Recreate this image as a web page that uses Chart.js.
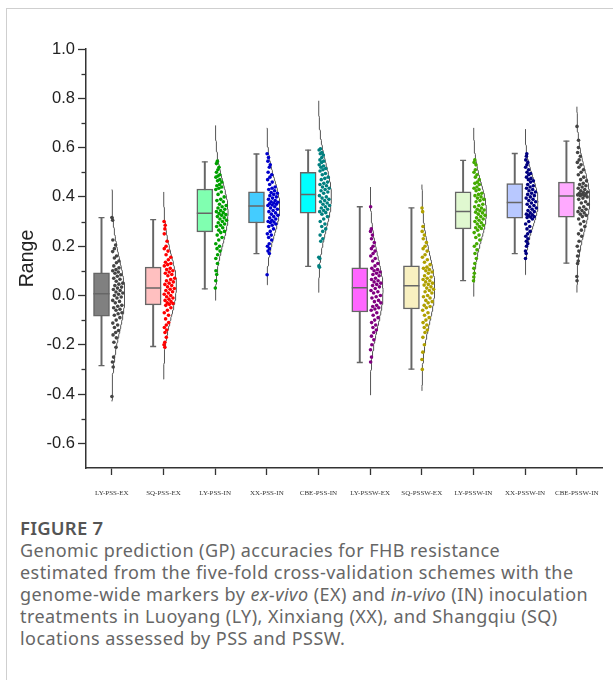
<!DOCTYPE html>
<html>
<head>
<meta charset="utf-8">
<script src="https://cdn.jsdelivr.net/npm/chart.js@4.4.1/dist/chart.umd.min.js"></script>
<style>
  html, body { margin: 0; padding: 0; background: #fff; }
  body { width: 613px; height: 680px; position: relative; overflow: hidden; }
  #frame { position: absolute; left: 6px; top: 8px; width: 620px; height: 690px;
           border-left: 1px solid #cfcfcf; border-top: 1px solid #cfcfcf; }
  #wrap { position: absolute; left: 0; top: 0; width: 613px; height: 510px; }
  #fig { position: absolute; left: 20px; top: 515px; font-family: "Noto Sans", "Open Sans", sans-serif;
         font-size: 18.5px; font-weight: 600; color: #555; letter-spacing: 0.2px; }
  #cap { position: absolute; left: 20px; top: 539px; font-family: "Noto Sans", "Open Sans", sans-serif;
         font-size: 18px; line-height: 22px; color: #666; white-space: nowrap; letter-spacing: 0.45px; }
</style>
</head>
<body>
<div id="frame"></div>
<div id="wrap"><canvas id="c" width="613" height="510"></canvas></div>
<div id="fig">FIGURE 7</div>
<div id="cap">Genomic prediction (GP) accuracies for FHB resistance<br>estimated from the five-fold cross-validation schemes with the<br>genome-wide markers by <i>ex-vivo</i> (EX) and <i>in-vivo</i> (IN) inoculation<br>treatments in Luoyang (LY), Xinxiang (XX), and Shangqiu (SQ)<br>locations assessed by PSS and PSSW.</div>
<script>
// ---------------- DATA ----------------
const categories = ['LY-PSS-EX','SQ-PSS-EX','LY-PSS-IN','XX-PSS-IN','CBE-PSS-IN','LY-PSSW-EX','SQ-PSSW-EX','LY-PSSW-IN','XX-PSSW-IN','CBE-PSSW-IN'];
const whiskerLow  = [-0.285,-0.207,0.027,0.170,0.118,-0.272,-0.299,0.060,0.170,0.131];
const q1          = [-0.084,-0.038,0.258,0.294,0.334,-0.067,-0.055,0.270,0.314,0.318];
const median      = [ 0.007, 0.030,0.334,0.363,0.410, 0.031, 0.039,0.341,0.377,0.404];
const q3          = [ 0.092, 0.115,0.432,0.420,0.500, 0.112, 0.120,0.420,0.454,0.460];
const whiskerHigh = [ 0.316, 0.308,0.542,0.574,0.590, 0.360, 0.355,0.548,0.576,0.626];
// fitted normal distribution curves (mean, sd, drawn range)
const curveMean = [0.000,0.040,0.335,0.360,0.400,0.018,0.030,0.340,0.380,0.390];
const curveSD   = [0.145,0.125,0.125,0.110,0.130,0.140,0.140,0.115,0.100,0.125];
const curveLow  = [-0.430,-0.340,-0.020,0.043,0.012,-0.404,-0.387,-0.004,0.084,0.012];
const curveHigh = [ 0.430, 0.420,0.690,0.680,0.790, 0.440, 0.450,0.680,0.675,0.766];
const yTickValues = [-0.6,-0.4,-0.2,0.0,0.2,0.4,0.6,0.8,1.0];
const yMinorTicks = [-0.7,-0.5,-0.3,-0.1,0.1,0.3,0.5,0.7,0.9];

const ptsLYPSSEX = [0.316,0.305,0.225,0.205,0.19,0.178,0.16,0.152,0.14,0.133,0.12,0.112,0.105,0.1,0.095,
 0.09,0.084,0.078,0.07,0.066,0.058,0.05,0.046,0.04,0.034,0.03,0.024,0.02,0.014,0.01,
 0.005,0.0,-0.006,-0.01,-0.02,-0.024,-0.03,-0.04,-0.044,-0.05,-0.056,-0.06,-0.07,-0.074,-0.08,
 -0.09,-0.1,-0.112,-0.12,-0.13,-0.142,-0.15,-0.16,-0.172,-0.19,-0.21,-0.25,-0.27,-0.29,-0.41];
const ptsSQPSSEX = [0.30,0.285,0.27,0.25,0.22,0.2,0.19,0.18,0.165,0.155,0.145,0.135,0.13,0.125,0.12,
 0.11,0.105,0.1,0.095,0.09,0.085,0.08,0.07,0.065,0.06,0.055,0.05,0.045,0.04,0.035,
 0.028,0.025,0.02,0.015,0.01,0.005,0.0,-0.005,-0.01,-0.015,-0.02,-0.025,-0.03,-0.033,-0.036,
 -0.04,-0.05,-0.06,-0.07,-0.08,-0.095,-0.11,-0.12,-0.13,-0.14,-0.15,-0.17,-0.19,-0.2,-0.21];
const ptsLYPSSIN = [0.545,0.535,0.52,0.51,0.5,0.49,0.485,0.48,0.47,0.465,0.46,0.45,0.445,0.44,0.435,
 0.43,0.42,0.41,0.4,0.39,0.385,0.38,0.37,0.365,0.36,0.355,0.35,0.345,0.34,0.336,
 0.332,0.328,0.325,0.32,0.315,0.31,0.305,0.3,0.295,0.29,0.285,0.28,0.275,0.265,0.26,
 0.255,0.245,0.235,0.225,0.21,0.2,0.19,0.18,0.165,0.15,0.13,0.1,0.085,0.06,0.03];
const ptsXXPSSIN = [0.575,0.56,0.545,0.53,0.52,0.5,0.49,0.48,0.47,0.46,0.45,0.44,0.435,0.43,0.425,
 0.418,0.415,0.41,0.405,0.4,0.395,0.39,0.385,0.38,0.378,0.375,0.372,0.37,0.367,0.365,
 0.36,0.355,0.35,0.345,0.34,0.335,0.33,0.325,0.32,0.315,0.31,0.305,0.3,0.298,0.296,
 0.29,0.285,0.28,0.27,0.26,0.25,0.245,0.235,0.225,0.21,0.2,0.19,0.18,0.17,0.084];
const ptsCBEPSSIN = [0.595,0.59,0.58,0.575,0.57,0.56,0.55,0.545,0.54,0.53,0.525,0.52,0.515,0.51,0.505,
 0.495,0.49,0.48,0.475,0.47,0.46,0.455,0.45,0.445,0.44,0.435,0.43,0.425,0.42,0.415,
 0.405,0.4,0.395,0.39,0.385,0.38,0.375,0.37,0.365,0.36,0.355,0.35,0.345,0.34,0.336,
 0.33,0.32,0.31,0.3,0.29,0.28,0.27,0.26,0.245,0.23,0.22,0.155,0.15,0.12,0.115];
const ptsLYPSSWEX = [0.36,0.27,0.26,0.245,0.23,0.215,0.2,0.19,0.18,0.17,0.16,0.15,0.14,0.13,0.12,
 0.11,0.105,0.1,0.095,0.09,0.085,0.08,0.07,0.065,0.06,0.055,0.05,0.045,0.04,0.035,
 0.028,0.02,0.015,0.01,0.0,-0.005,-0.01,-0.02,-0.025,-0.03,-0.04,-0.045,-0.05,-0.055,-0.06,
 -0.07,-0.08,-0.09,-0.1,-0.11,-0.12,-0.13,-0.14,-0.15,-0.165,-0.18,-0.2,-0.22,-0.25,-0.27];
const ptsSQPSSWEX = [0.355,0.34,0.28,0.26,0.245,0.23,0.215,0.2,0.19,0.18,0.165,0.155,0.145,0.135,0.125,
 0.115,0.11,0.105,0.1,0.095,0.09,0.08,0.075,0.07,0.065,0.06,0.055,0.05,0.045,0.042,
 0.035,0.03,0.025,0.02,0.015,0.01,0.0,-0.005,-0.01,-0.02,-0.025,-0.03,-0.04,-0.045,-0.05,
 -0.06,-0.07,-0.08,-0.09,-0.1,-0.11,-0.12,-0.13,-0.14,-0.15,-0.17,-0.2,-0.23,-0.26,-0.3];
const ptsLYPSSWIN = [0.55,0.54,0.53,0.51,0.5,0.49,0.48,0.47,0.46,0.455,0.45,0.44,0.435,0.43,0.425,
 0.415,0.41,0.405,0.4,0.395,0.39,0.385,0.38,0.37,0.365,0.36,0.355,0.35,0.347,0.344,
 0.338,0.335,0.33,0.325,0.32,0.315,0.31,0.305,0.3,0.295,0.29,0.285,0.28,0.275,0.272,
 0.265,0.255,0.245,0.235,0.225,0.21,0.2,0.185,0.17,0.15,0.13,0.11,0.09,0.075,0.06];
const ptsXXPSSWIN = [0.575,0.565,0.55,0.54,0.53,0.52,0.51,0.5,0.495,0.49,0.48,0.475,0.47,0.465,0.46,
 0.45,0.445,0.44,0.435,0.43,0.425,0.42,0.415,0.41,0.405,0.4,0.395,0.39,0.385,0.38,
 0.375,0.37,0.365,0.36,0.355,0.35,0.345,0.34,0.335,0.33,0.327,0.324,0.32,0.318,0.316,
 0.31,0.3,0.29,0.28,0.27,0.26,0.25,0.24,0.23,0.22,0.21,0.2,0.18,0.17,0.15];
const ptsCBEPSSWIN = [0.686,0.63,0.6,0.58,0.565,0.55,0.54,0.53,0.52,0.51,0.5,0.49,0.48,0.47,0.465,
 0.455,0.45,0.445,0.44,0.435,0.43,0.425,0.42,0.418,0.415,0.412,0.41,0.408,0.406,0.405,
 0.4,0.395,0.39,0.38,0.375,0.37,0.36,0.355,0.35,0.345,0.34,0.335,0.33,0.325,0.32,
 0.31,0.3,0.29,0.28,0.265,0.25,0.24,0.22,0.2,0.18,0.16,0.14,0.13,0.077,0.06];
const groupPoints = [ptsLYPSSEX,ptsSQPSSEX,ptsLYPSSIN,ptsXXPSSIN,ptsCBEPSSIN,ptsLYPSSWEX,ptsSQPSSWEX,ptsLYPSSWIN,ptsXXPSSWIN,ptsCBEPSSWIN];

// ---------------- STYLE ----------------
const boxColors   = ['#808080','#ffc0c0','#80ffb0','#44ccff','#00ffff','#ff66ff','#f8f0c0','#e0f8d0','#b8c8ff','#ffaaff'];
const pointColors = ['#444444','#ff0000','#00a000','#0000cc','#008080','#800080','#b0a000','#44aa00','#000080','#444444'];
const BOX_SHIFT = 0.2, CURVE_PEAK = 0.25, LINE = '#666666';

function curveWidth(g, y) {
  const z = (y - curveMean[g]) / curveSD[g];
  return CURVE_PEAK * Math.exp(-0.5 * z * z);
}

const datasets = [];
// whiskers (thin floating bars)
datasets.push({ type:'bar', order:6, grouped:false, barThickness:1.3, backgroundColor:LINE, borderWidth:0,
  data: categories.map((c,i)=>({x:i+1-BOX_SHIFT, y:[whiskerLow[i], whiskerHigh[i]]})) });
// boxes
datasets.push({ type:'bar', order:5, grouped:false, barThickness:16, backgroundColor:boxColors,
  borderColor:LINE, borderWidth:1.5, borderSkipped:false,
  data: categories.map((c,i)=>({x:i+1-BOX_SHIFT, y:[q1[i], q3[i]]})) });
// medians
datasets.push({ type:'scatter', order:4, pointStyle:'line', pointRadius:8, pointBorderWidth:1.5,
  pointBorderColor:LINE, borderColor:LINE,
  data: categories.map((c,i)=>({x:i+1-BOX_SHIFT, y:median[i]})) });
// whisker caps
datasets.push({ type:'scatter', order:4, pointStyle:'line', pointRadius:3, pointBorderWidth:1.3,
  pointBorderColor:LINE, borderColor:LINE,
  data: categories.flatMap((c,i)=>[{x:i+1-BOX_SHIFT, y:whiskerLow[i]},{x:i+1-BOX_SHIFT, y:whiskerHigh[i]}]) });
// distribution curves
categories.forEach((c,g)=>{
  const pts = [];
  const n = 140;
  for (let k=0;k<=n;k++){
    const y = curveLow[g] + (curveHigh[g]-curveLow[g])*k/n;
    pts.push({x: g+1+curveWidth(g,y), y});
  }
  datasets.push({ type:'scatter', order:3, showLine:true, pointRadius:0, borderColor:'#555555',
    borderWidth:1, fill:false, data: pts });
});
// jittered points
categories.forEach((c,g)=>{
  const vals = groupPoints[g];
  datasets.push({ type:'scatter', order:1, pointRadius:1.8, pointBorderWidth:0,
    backgroundColor:pointColors[g], borderColor:pointColors[g],
    data: vals.map((v,k)=>{
      const frac = ((k*0.61803398875) + g*0.37) % 1;
      return {x: g+1 + curveWidth(g,v)*(0.06+0.86*frac), y:v};
    }) });
});

const minorTickPlugin = {
  id:'minorTicks',
  afterDraw(chart){
    const ys = chart.scales.y, ctx = chart.ctx;
    const x0 = chart.chartArea.left;
    ctx.save();
    ctx.strokeStyle = '#333'; ctx.lineWidth = 1.3;
    yMinorTicks.forEach(v=>{
      if (v <= ys.min) return;
      const py = Math.round(ys.getPixelForValue(v)) + 0.5;
      ctx.beginPath(); ctx.moveTo(x0 - 4.5, py); ctx.lineTo(x0, py); ctx.stroke();
    });
    ctx.restore();
  }
};

new Chart(document.getElementById('c'), {
  type:'bar',
  data:{ datasets },
  plugins:[minorTickPlugin],
  options:{
    responsive:false, animation:false,
    layout:{ padding:{ top:49, right:5, bottom:0, left:0 } },
    plugins:{ legend:{display:false}, tooltip:{enabled:false} },
    scales:{
      x:{ type:'linear', min:0.5, max:10.5, offset:false,
        afterBuildTicks(s){ s.ticks = categories.map((c,i)=>({value:i+1})); },
        afterFit(s){ s.height = 42; },
        grid:{ drawOnChartArea:false, drawTicks:true, tickLength:7, color:'#333', tickWidth:1.3, offset:false },
        border:{ display:true, color:'#333', width:1.5 },
        ticks:{ autoSkip:false, maxRotation:0, minRotation:0, padding:14, color:'#333',
          font:{ family:'"Liberation Serif", "DejaVu Serif", serif', size:7 },
          callback:(v)=> categories[Math.round(v)-1] }
      },
      y:{ type:'linear', min:-0.7, max:1.0,
        afterBuildTicks(s){ s.ticks = yTickValues.map(v=>({value:v})); },
        afterFit(s){ s.width = 86; },
        grid:{ drawOnChartArea:false, drawTicks:true, tickLength:8, color:'#333', tickWidth:1.3 },
        border:{ display:true, color:'#333', width:1.5 },
        ticks:{ padding:3, color:'#222', font:{ family:'"Liberation Sans", Arial, sans-serif', size:16.5 },
          callback:(v)=> v.toFixed(1) },
        title:{ display:true, text:'Range', color:'#222', padding:{top:16, bottom:0},
          font:{ family:'"Liberation Sans", Arial, sans-serif', size:19.5 } }
      }
    }
  }
});
</script>
</body>
</html>
